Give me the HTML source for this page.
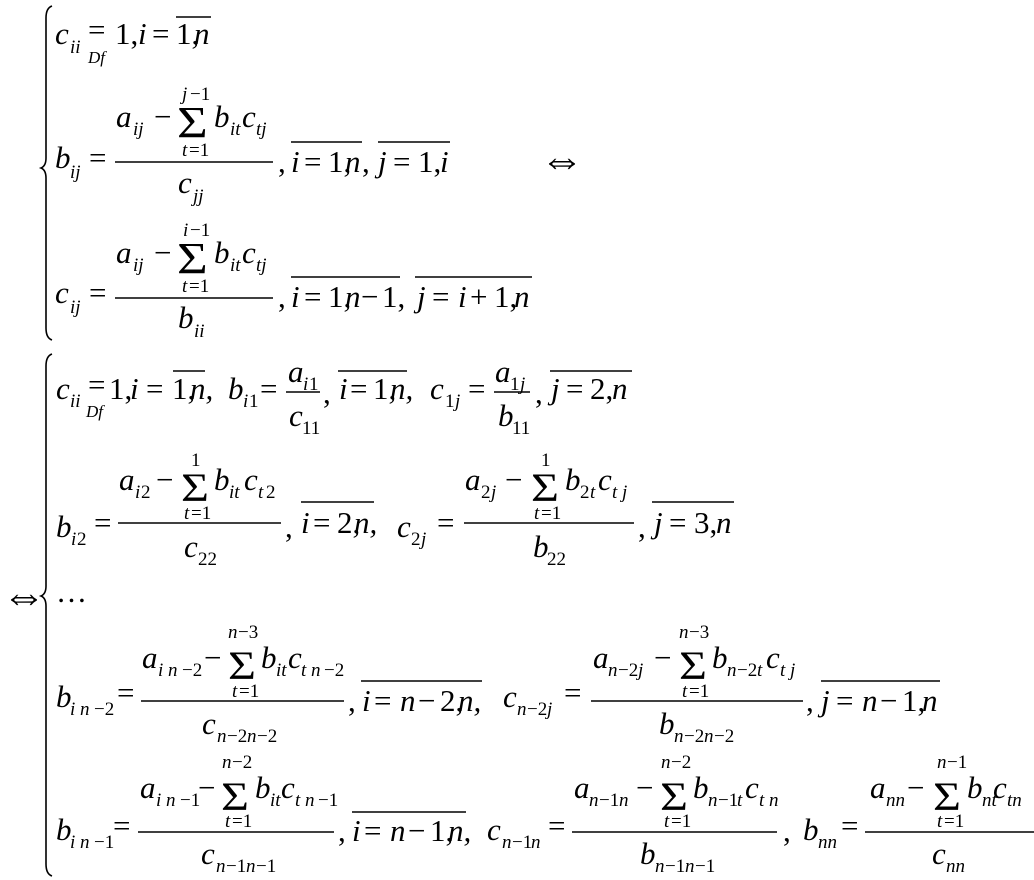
<!DOCTYPE html>
<html><head><meta charset="utf-8"><style>
html,body{margin:0;padding:0;background:#fff;}
svg{display:block}
text{font-family:"Liberation Serif","DejaVu Serif",serif;fill:#000}
.i{font-style:italic;font-size:31px}
.r{font-size:31px}
.s{font-style:italic;font-size:19px}
.u{font-size:19px}
.t{font-style:italic;font-size:17px}
.S{font-size:44px}
.Sb{font-size:40px}
.A{font-size:44px}
</style></head><body>
<svg width="1034" height="880" viewBox="0 0 1034 880" xmlns="http://www.w3.org/2000/svg">
<g fill="none" stroke="#000" stroke-width="1.6">
<path d="M52 6 Q46 8 46 18 L46 158 Q46 166 41 168 Q46 170 46 178 L46 328 Q46 338 52 340"/>
<path d="M52 354 Q46 356 46 366 L46 586 Q46 594 41 596 Q46 598 46 606 L46 864 Q46 874 52 876"/>
<line x1="176" y1="17" x2="211" y2="17"/>
<line x1="115" y1="162" x2="273" y2="162"/>
<line x1="291" y1="142" x2="362" y2="142"/>
<line x1="378" y1="142" x2="450" y2="142"/>
<line x1="115" y1="298" x2="273" y2="298"/>
<line x1="291" y1="277" x2="400" y2="277"/>
<line x1="415" y1="277" x2="532" y2="277"/>
<line x1="173" y1="371" x2="205" y2="371"/>
<line x1="286" y1="392" x2="320" y2="392"/>
<line x1="338" y1="371" x2="407" y2="371"/>
<line x1="494" y1="392" x2="530" y2="392"/>
<line x1="550" y1="371" x2="632" y2="371"/>
<line x1="118" y1="523" x2="281" y2="523"/>
<line x1="301" y1="502" x2="374" y2="502"/>
<line x1="464" y1="523" x2="634" y2="523"/>
<line x1="652" y1="502" x2="734" y2="502"/>
<line x1="141" y1="701" x2="344" y2="701"/>
<line x1="361" y1="681" x2="482" y2="681"/>
<line x1="591" y1="701" x2="803" y2="701"/>
<line x1="821" y1="681" x2="940" y2="681"/>
<line x1="138" y1="832" x2="334" y2="832"/>
<line x1="352" y1="812" x2="466" y2="812"/>
<line x1="572" y1="832" x2="777" y2="832"/>
<line x1="865" y1="832" x2="1034" y2="832"/>
</g>

<!-- top system row 1 -->
<text class="i" x="55" y="44">c</text><text class="s" x="70" y="53">ii</text>
<text class="r" x="88" y="40">=</text><text class="t" x="88" y="63">Df</text>
<text class="r" x="115" y="44">1,</text><text class="i" x="138" y="44">i</text><text class="r" x="152" y="44">=</text>
<text class="r" x="176" y="44">1,</text><text class="i" x="194" y="44">n</text>

<!-- row 2 -->
<text class="i" x="55" y="168">b</text><text class="s" x="70" y="178">ij</text>
<text class="r" x="89" y="168">=</text>
<text class="i" x="116" y="127">a</text><text class="s" x="133" y="135">ij</text>
<text class="r" x="154" y="127">−</text>
<text class="S" transform="translate(177,137) scale(1.2,1)">Σ</text>
<text class="s" x="182" y="100">j</text><text class="u" x="190" y="100">−1</text>
<text class="s" x="182" y="156">t</text><text class="u" x="189" y="156">=1</text>
<text class="i" x="214" y="127">b</text><text class="s" x="230" y="135">it</text>
<text class="i" x="242" y="127">c</text><text class="s" x="256" y="135">tj</text>
<text class="i" x="178" y="193">c</text><text class="s" x="193" y="202">jj</text>
<text class="r" x="278" y="172">,</text>
<text class="i" x="291" y="172">i</text><text class="r" x="304" y="172">=</text><text class="r" x="328" y="172">1,</text><text class="i" x="345" y="172">n</text><text class="r" x="362" y="172">,</text>
<text class="i" x="378" y="172">j</text><text class="r" x="393" y="172">=</text><text class="r" x="418" y="172">1,</text><text class="i" x="440" y="172">i</text>
<text class="A" x="540" y="174">⇔</text>

<!-- row 3 -->
<text class="i" x="55" y="303">c</text><text class="s" x="70" y="313">ij</text>
<text class="r" x="89" y="303">=</text>
<text class="i" x="116" y="263">a</text><text class="s" x="133" y="271">ij</text>
<text class="r" x="154" y="263">−</text>
<text class="S" transform="translate(177,273) scale(1.2,1)">Σ</text>
<text class="s" x="183" y="236">i</text><text class="u" x="190" y="236">−1</text>
<text class="s" x="182" y="292">t</text><text class="u" x="189" y="292">=1</text>
<text class="i" x="214" y="263">b</text><text class="s" x="230" y="271">it</text>
<text class="i" x="242" y="263">c</text><text class="s" x="256" y="271">tj</text>
<text class="i" x="178" y="328">b</text><text class="s" x="194" y="337">ii</text>
<text class="r" x="278" y="307">,</text>
<text class="i" x="291" y="307">i</text><text class="r" x="304" y="307">=</text><text class="r" x="328" y="307">1,</text><text class="i" x="345" y="307">n</text><text class="r" x="361" y="307">−</text><text class="r" x="382" y="307">1,</text>
<text class="i" x="417" y="307">j</text><text class="r" x="432" y="307">=</text><text class="i" x="458" y="307">i</text><text class="r" x="470" y="307">+</text><text class="r" x="494" y="307">1,</text><text class="i" x="514" y="307">n</text>

<!-- bottom: left arrow and ellipsis -->
<text class="A" x="2" y="610">⇔</text>
<text class="r" x="56" y="602">…</text>

<!-- bottom row 1 -->
<text class="i" x="56" y="399">c</text><text class="s" x="70" y="407">ii</text>
<text class="r" x="88" y="395">=</text><text class="t" x="86" y="417">Df</text>
<text class="r" x="109" y="399">1,</text><text class="i" x="130" y="399">i</text><text class="r" x="146" y="399">=</text>
<text class="r" x="172" y="399">1,</text><text class="i" x="190" y="399">n,</text>
<text class="i" x="228" y="399">b</text><text class="s" x="243" y="407">i</text><text class="u" x="249" y="407">1</text>
<text class="r" x="260" y="399">=</text>
<text class="i" x="288" y="382">a</text><text class="s" x="303" y="390">i</text><text class="u" x="309" y="390">1</text>
<text class="i" x="289" y="426">c</text><text class="u" x="302" y="434">11</text>
<text class="r" x="323" y="403">,</text>
<text class="i" x="339" y="399">i</text><text class="r" x="350" y="399">=</text><text class="r" x="373" y="399">1,</text><text class="i" x="390" y="399">n,</text>
<text class="i" x="430" y="399">c</text><text class="u" x="445" y="407">1</text><text class="s" x="455" y="407">j</text>
<text class="r" x="468" y="399">=</text>
<text class="i" x="495" y="382">a</text><text class="u" x="510" y="390">1</text><text class="s" x="520" y="390">j</text>
<text class="i" x="498" y="426">b</text><text class="u" x="512" y="434">11</text>
<text class="r" x="535" y="403">,</text>
<text class="i" x="551" y="399">j</text><text class="r" x="566" y="399">=</text><text class="r" x="590" y="399">2,</text><text class="i" x="612" y="399">n</text>

<!-- bottom row 2 -->
<text class="i" x="56" y="537">b</text><text class="s" x="71" y="545">i</text><text class="u" x="77" y="545">2</text>
<text class="r" x="94" y="533">=</text>
<text class="i" x="119" y="490">a</text><text class="s" x="135" y="498">i</text><text class="u" x="141" y="498">2</text>
<text class="r" x="156" y="490">−</text>
<text class="Sb" transform="translate(181,501) scale(1.2,1)">Σ</text>
<text class="u" x="191" y="466">1</text>
<text class="s" x="184" y="519">t</text><text class="u" x="191" y="519">=1</text>
<text class="i" x="214" y="490">b</text><text class="s" x="229" y="498">it</text>
<text class="i" x="244" y="490">c</text><text class="s" x="258" y="498">t</text><text class="u" x="266" y="498">2</text>
<text class="i" x="184" y="557">c</text><text class="u" x="198" y="565">22</text>
<text class="r" x="285" y="537">,</text>
<text class="i" x="301" y="533">i</text><text class="r" x="313" y="533">=</text><text class="r" x="337" y="533">2,</text><text class="i" x="354" y="533">n,</text>
<text class="i" x="397" y="537">c</text><text class="u" x="411" y="545">2</text><text class="s" x="421" y="545">j</text>
<text class="r" x="437" y="533">=</text>
<text class="i" x="465" y="490">a</text><text class="u" x="481" y="498">2</text><text class="s" x="491" y="498">j</text>
<text class="r" x="505" y="490">−</text>
<text class="Sb" transform="translate(531,501) scale(1.2,1)">Σ</text>
<text class="u" x="541" y="466">1</text>
<text class="s" x="534" y="519">t</text><text class="u" x="541" y="519">=1</text>
<text class="i" x="565" y="490">b</text><text class="u" x="580" y="498">2</text><text class="s" x="590" y="498">t</text>
<text class="i" x="598" y="490">c</text><text class="s" x="612" y="498">t j</text>
<text class="i" x="533" y="557">b</text><text class="u" x="547" y="565">22</text>
<text class="r" x="638" y="537">,</text>
<text class="i" x="654" y="533">j</text><text class="r" x="669" y="533">=</text><text class="r" x="694" y="533">3,</text><text class="i" x="716" y="533">n</text>

<!-- bottom row 4 -->
<text class="i" x="56" y="707">b</text><text class="s" x="70" y="715">i n</text><text class="u" x="94" y="715">−2</text>
<text class="r" x="117" y="703">=</text>
<text class="i" x="142" y="668">a</text><text class="s" x="158" y="676">i n</text><text class="u" x="182" y="676">−2</text>
<text class="r" x="204" y="668">−</text>
<text class="Sb" transform="translate(228,679) scale(1.2,1)">Σ</text>
<text class="s" x="228" y="638">n</text><text class="u" x="238" y="638">−3</text>
<text class="s" x="232" y="697">t</text><text class="u" x="239" y="697">=1</text>
<text class="i" x="261" y="668">b</text><text class="s" x="276" y="676">it</text>
<text class="i" x="288" y="668">c</text><text class="s" x="301" y="676">t n</text><text class="u" x="324" y="676">−2</text>
<text class="i" x="202" y="734">c</text><text class="s" x="217" y="742">n</text><text class="u" x="227" y="742">−2</text><text class="s" x="247" y="742">n</text><text class="u" x="257" y="742">−2</text>
<text class="r" x="348" y="711">,</text>
<text class="i" x="362" y="711">i</text><text class="r" x="374" y="711">=</text><text class="i" x="400" y="711">n</text><text class="r" x="418" y="711">−</text><text class="r" x="440" y="711">2,</text><text class="i" x="458" y="711">n,</text>
<text class="i" x="503" y="707">c</text><text class="s" x="517" y="715">n</text><text class="u" x="527" y="715">−2</text><text class="s" x="547" y="715">j</text>
<text class="r" x="564" y="703">=</text>
<text class="i" x="593" y="668">a</text><text class="s" x="608" y="676">n</text><text class="u" x="618" y="676">−2</text><text class="s" x="638" y="676">j</text>
<text class="r" x="654" y="668">−</text>
<text class="Sb" transform="translate(679,679) scale(1.2,1)">Σ</text>
<text class="s" x="679" y="638">n</text><text class="u" x="689" y="638">−3</text>
<text class="s" x="682" y="697">t</text><text class="u" x="689" y="697">=1</text>
<text class="i" x="712" y="668">b</text><text class="s" x="727" y="676">n</text><text class="u" x="737" y="676">−2</text><text class="s" x="757" y="676">t</text>
<text class="i" x="766" y="668">c</text><text class="s" x="780" y="676">t j</text>
<text class="i" x="659" y="734">b</text><text class="s" x="674" y="742">n</text><text class="u" x="684" y="742">−2</text><text class="s" x="704" y="742">n</text><text class="u" x="714" y="742">−2</text>
<text class="r" x="806" y="711">,</text>
<text class="i" x="821" y="711">j</text><text class="r" x="836" y="711">=</text><text class="i" x="862" y="711">n</text><text class="r" x="880" y="711">−</text><text class="r" x="902" y="711">1,</text><text class="i" x="922" y="711">n</text>

<!-- bottom row 5 -->
<text class="i" x="56" y="840">b</text><text class="s" x="70" y="848">i n</text><text class="u" x="94" y="848">−1</text>
<text class="r" x="113" y="836">=</text>
<text class="i" x="140" y="798">a</text><text class="s" x="156" y="806">i n</text><text class="u" x="180" y="806">−1</text>
<text class="r" x="198" y="798">−</text>
<text class="Sb" transform="translate(221,810) scale(1.2,1)">Σ</text>
<text class="s" x="222" y="768">n</text><text class="u" x="232" y="768">−2</text>
<text class="s" x="225" y="827">t</text><text class="u" x="232" y="827">=1</text>
<text class="i" x="255" y="798">b</text><text class="s" x="270" y="806">it</text>
<text class="i" x="281" y="798">c</text><text class="s" x="295" y="806">t n</text><text class="u" x="318" y="806">−1</text>
<text class="i" x="201" y="864">c</text><text class="s" x="216" y="872">n</text><text class="u" x="226" y="872">−1</text><text class="s" x="246" y="872">n</text><text class="u" x="256" y="872">−1</text>
<text class="r" x="338" y="841">,</text>
<text class="i" x="352" y="841">i</text><text class="r" x="364" y="841">=</text><text class="i" x="390" y="841">n</text><text class="r" x="408" y="841">−</text><text class="r" x="430" y="841">1,</text><text class="i" x="448" y="841">n,</text>
<text class="i" x="487" y="840">c</text><text class="s" x="502" y="848">n</text><text class="u" x="512" y="848">−1</text><text class="s" x="531" y="848">n</text>
<text class="r" x="548" y="836">=</text>
<text class="i" x="574" y="798">a</text><text class="s" x="589" y="806">n</text><text class="u" x="599" y="806">−1</text><text class="s" x="619" y="806">n</text>
<text class="r" x="636" y="798">−</text>
<text class="Sb" transform="translate(660,810) scale(1.2,1)">Σ</text>
<text class="s" x="661" y="768">n</text><text class="u" x="671" y="768">−2</text>
<text class="s" x="664" y="827">t</text><text class="u" x="671" y="827">=1</text>
<text class="i" x="693" y="798">b</text><text class="s" x="708" y="806">n</text><text class="u" x="718" y="806">−1</text><text class="s" x="737" y="806">t</text>
<text class="i" x="745" y="798">c</text><text class="s" x="759" y="806">t n</text>
<text class="i" x="640" y="864">b</text><text class="s" x="655" y="872">n</text><text class="u" x="665" y="872">−1</text><text class="s" x="685" y="872">n</text><text class="u" x="695" y="872">−1</text>
<text class="r" x="783" y="841">,</text>
<text class="i" x="803" y="840">b</text><text class="s" x="818" y="848">nn</text>
<text class="r" x="841" y="836">=</text>
<text class="i" x="870" y="798">a</text><text class="s" x="886" y="806">nn</text>
<text class="r" x="907" y="798">−</text>
<text class="Sb" transform="translate(933,810) scale(1.2,1)">Σ</text>
<text class="s" x="937" y="768">n</text><text class="u" x="947" y="768">−1</text>
<text class="s" x="937" y="827">t</text><text class="u" x="944" y="827">=1</text>
<text class="i" x="967" y="798">b</text><text class="s" x="982" y="806">nt</text>
<text class="i" x="993" y="798">c</text><text class="s" x="1007" y="806">tn</text>
<text class="i" x="932" y="864">c</text><text class="s" x="946" y="872">nn</text>
</svg>
</body></html>
